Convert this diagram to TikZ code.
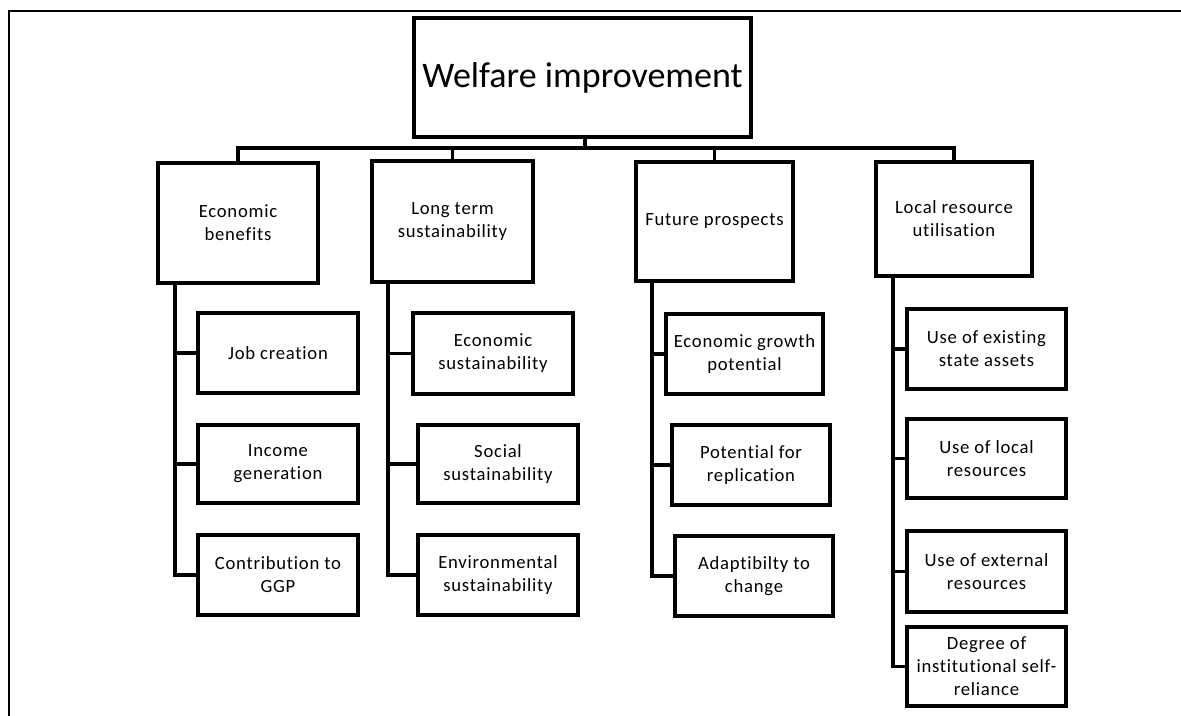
\documentclass[tikz,border=0pt]{standalone}
\usepackage{fontspec}
\setmainfont{Carlito}[Ligatures=NoCommon]
\newfontfamily\boxfont{Carlito}[Ligatures=NoCommon, LetterSpace=4]
\begin{document}
\begin{tikzpicture}[x=0.75pt,y=-0.75pt,
  box/.style={draw, line width=2.5pt, align=center, inner sep=0pt, outer sep=0pt,
    font=\boxfont\fontsize{14}{17.25}\selectfont},
  sz/.style 2 args={minimum width=#1*0.75pt, minimum height=#2*0.75pt},
  conn/.style={line width=2.5pt},
  frame/.style={line width=1.2pt}]
\useasboundingbox (0,0) rectangle (1181,716);

% outer frame (top and left edges)
\draw[frame] (1181,11) -- (9,11) -- (9,716);

% root
\node[box, sz={337}{119}, font=\rmfamily\fontsize{27}{32}\selectfont] (root) at (582.5,77.5) {Welfare improvement};

% first level
\node[box, sz={160}{120}] (eb) at (238,223)   {Economic\\benefits};
\node[box, sz={161}{121}] (lt) at (452.5,221.5) {Long term\\sustainability};
\node[box, sz={157}{119}] (fp) at (714.5,221.5) {Future prospects};
\node[box, sz={156}{114}] (lr) at (954,219)   {Local resource\\utilisation};

% economic benefits
\node[box, sz={160}{80}] (jc) at (278,353) {Job creation};
\node[box, sz={160}{78}] (ig) at (278,464) {Income\\generation};
\node[box, sz={160}{80}] (cg) at (278,575) {Contribution to\\GGP};

% long term sustainability
\node[box, sz={160}{81}] (es) at (493,353.5) {Economic\\sustainability};
\node[box, sz={160}{78}] (ss) at (498,464)   {Social\\sustainability};
\node[box, sz={160}{80}] (en) at (498,575)   {Environmental\\sustainability};

% future prospects
\node[box, sz={157}{80}] (eg) at (744.5,354) {Economic growth\\potential};
\node[box, sz={158}{80}] (pr) at (751,465)   {Potential for\\replication};
\node[box, sz={158}{80}] (ac) at (754,576)   {Adaptibilty to\\change};

% local resource utilisation
\node[box, sz={159}{80}] (ue) at (986.5,349)   {Use of existing\\state assets};
\node[box, sz={159}{79}] (ul) at (986.5,458.5) {Use of local\\resources};
\node[box, sz={159}{81}] (ux) at (986.5,571.5) {Use of external\\resources};
\node[box, sz={159}{79}] (di) at (986.5,666.5) {Degree of\\institutional self-\\reliance};

% bus under the root
\coordinate (bus) at (0,148);
\draw[conn] ([xshift=2.5*0.75pt]root.south) -- ([xshift=2.5*0.75pt]root.south |- bus);
\draw[conn] (eb.north) -- (eb.north |- bus) -- (lr.north |- bus) -- (lr.north);
\draw[conn] (lt.north) -- (lt.north |- bus);
\draw[conn] (fp.north) -- (fp.north |- bus);

% spines to the second level
\coordinate (sEB) at ([xshift=17*0.75pt]eb.south west);
\coordinate (sLT) at ([xshift=16*0.75pt]lt.south west);
\coordinate (sFP) at ([xshift=16*0.75pt]fp.south west);
\coordinate (sLR) at ([xshift=17*0.75pt]lr.south west);

\draw[conn] (sEB) |- (cg.west);
\draw[conn] (sEB |- jc.west) -- (jc.west);
\draw[conn] (sEB |- ig.west) -- (ig.west);

\draw[conn] (sLT) |- (en.west);
\draw[conn] (sLT |- es.west) -- (es.west);
\draw[conn] (sLT |- ss.west) -- (ss.west);

\draw[conn] (sFP) |- (ac.west);
\draw[conn] (sFP |- eg.west) -- (eg.west);
\draw[conn] (sFP |- pr.west) -- (pr.west);

\draw[conn] (sLR) |- (di.west);
\draw[conn] (sLR |- ue.west) -- (ue.west);
\draw[conn] (sLR |- ul.west) -- (ul.west);
\draw[conn] (sLR |- ux.west) -- (ux.west);
\end{tikzpicture}
\end{document}
